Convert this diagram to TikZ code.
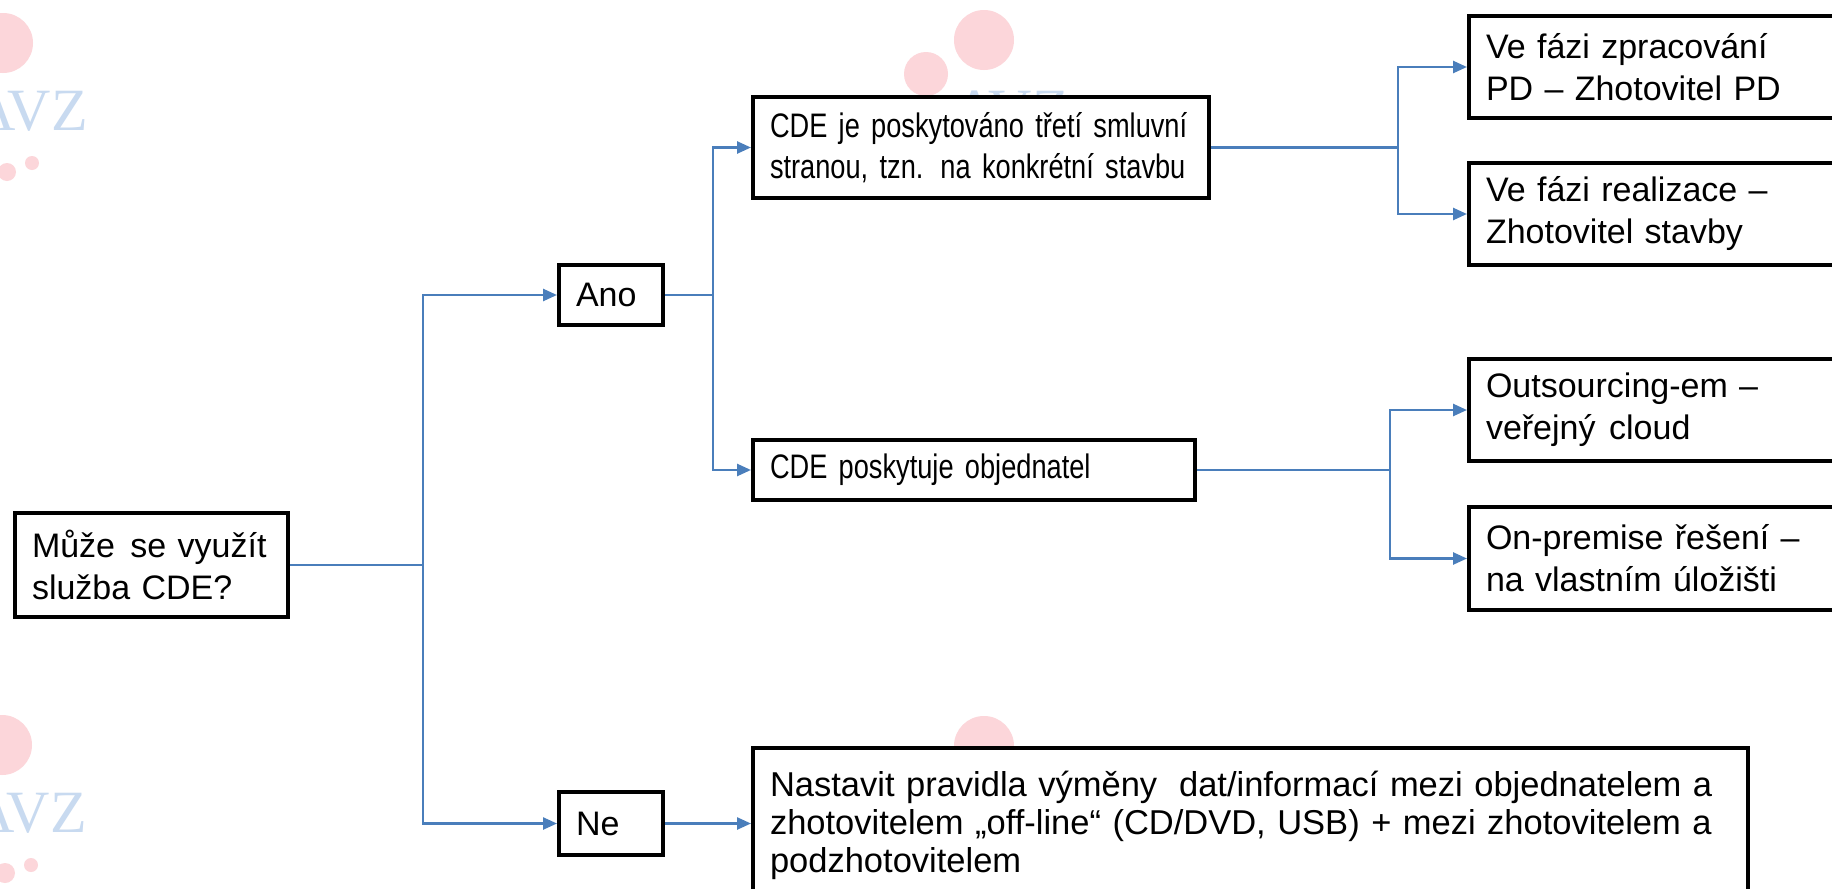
\documentclass[tikz,border=0pt]{standalone}
\usepackage{fontspec}
\setmainfont{Liberation Sans}
\newfontfamily\narrowfont[FakeStretch=0.8]{Liberation Sans}
\newfontfamily\wmfont{Liberation Serif}
\usetikzlibrary{arrows.meta}
\definecolor{connblue}{RGB}{74,126,187}
\definecolor{wmpink}{RGB}{252,214,218}
\definecolor{wmblue}{RGB}{200,218,240}
\tikzset{
  box/.style={draw=black, line width=4pt, fill=white, anchor=north west,
    inner xsep=17pt, inner ysep=0pt, align=left,
    font=\fontsize{34}{42}\selectfont},
  nbox/.style={box, font=\narrowfont\fontsize{34}{41}\selectfont},
  link/.style={draw=connblue, line width=2.5pt},
  arr/.style={link, -{Triangle[length=14pt,width=12pt]}},
  wmtext/.style={text=wmblue, inner sep=0pt, anchor=base east,
    font=\wmfont\fontsize{60}{60}\selectfont},
}
\begin{document}
\begin{tikzpicture}[x=1pt,y=-1pt]
\useasboundingbox (0,0) rectangle (1832,889);
\fill[white] (0,0) rectangle (1832,889);
% watermarks
\fill[wmpink] (3,43) circle[radius=30];
\fill[wmpink] (7,172) circle[radius=9];
\fill[wmpink] (32,163) circle[radius=7];
\node[wmtext] (wm1) at (88,130) {AVZ};
\fill[wmpink] (2,745) circle[radius=30];
\fill[wmpink] (5,873) circle[radius=10];
\fill[wmpink] (31,865) circle[radius=7];
\node[wmtext] (wm2) at (87,832) {AVZ};
\fill[wmpink] (984,40) circle[radius=30];
\fill[wmpink] (926,74) circle[radius=22];
\node[wmtext] (wm3) at (1069,130) {AVZ};
\fill[wmpink] (984,746) circle[radius=30];
% boxes
\node[box, minimum width=273pt, minimum height=104pt, text width=239pt] (root) at (13,511)
  {Může\hspace{0.45em}se využít\\služba CDE?};
\node[box, minimum width=104pt, minimum height=60pt, text width=70pt] (ano) at (557,263) {Ano};
\node[box, minimum width=104pt, minimum height=63pt, text width=70pt] (ne) at (557,790) {Ne};
\node[nbox, minimum width=456pt, minimum height=101pt, text width=422pt] (cde1) at (751,95)
  {\makebox[421pt][s]{CDE je poskytováno třetí smluvní}\\\makebox[414pt][s]{stranou, tzn. na konkrétní stavbu}};
\node[nbox, minimum width=442pt, minimum height=60pt, text width=408pt] (cde2) at (751,438)
  {\mbox{CDE poskytuje objednatel}};
\node[box, minimum width=383pt, minimum height=102pt, text width=349pt] (ve1) at (1467,14)
  {Ve fázi zpracování\\PD – Zhotovitel PD};
\node[box, minimum width=383pt, minimum height=102pt, text width=349pt] (ve2) at (1467,161)
  {Ve fázi realizace –\\Zhotovitel stavby};
\node[box, minimum width=383pt, minimum height=102pt, text width=349pt] (out) at (1467,357)
  {Outsourcing-em –\\veřejný\hspace{0.4em}cloud};
\node[box, minimum width=383pt, minimum height=103pt, text width=349pt] (on) at (1467,505)
  {On-premise řešení –\\na vlastním úložišti};
\node[box, font=\fontsize{34.5}{38}\selectfont, minimum width=995pt, minimum height=154pt, text width=961pt] (bot) at (751,746)
  {\mbox{Nastavit pravidla výměny\hspace{0.3em} dat/informací mezi objednatelem a}\\\mbox{zhotovitelem „off-line“ (CD/DVD, USB) + mezi zhotovitelem a}\\podzhotovitelem};
% junctions
\coordinate (t1) at (423,0);
\coordinate (t2) at (713,0);
\coordinate (t3) at (1398,0);
\coordinate (t4) at (1390,0);
\coordinate (j1) at (root.east -| t1);
\coordinate (j2) at (ano.east -| t2);
\coordinate (j3) at (cde1.east -| t3);
\coordinate (j4) at (cde2.east -| t4);
% connectors
\draw[link] (root.east) -- (j1);
\draw[arr] (j1) |- (ano.west);
\draw[arr] (j1) |- (ne.west);
\draw[link] (ano.east) -- (j2);
\draw[arr] (j2) |- (cde1.west);
\draw[arr] (j2) |- (cde2.west);
\draw[link] (cde1.east) -- (j3);
\draw[arr] (j3) |- (ve1.west);
\draw[arr] (j3) |- (ve2.west);
\draw[link] (cde2.east) -- (j4);
\draw[arr] (j4) |- (out.west);
\draw[arr] (j4) |- (on.west);
\draw[arr] (ne.east) -- (ne.east -| bot.west);
\end{tikzpicture}
\end{document}
